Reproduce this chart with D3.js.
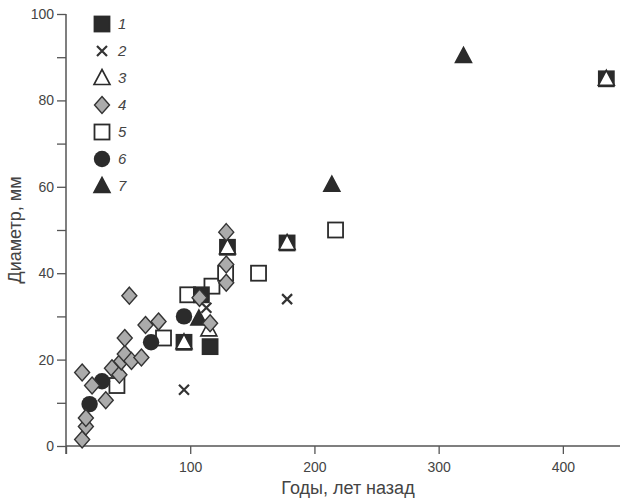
<!DOCTYPE html>
<html>
<head>
<meta charset="utf-8">
<script src="https://cdn.jsdelivr.net/npm/d3@7"></script>
<style>
  html, body { margin: 0; padding: 0; background: #fff; }
  svg { display: block; font-family: "Liberation Sans", Arial, sans-serif; }
</style>
</head>
<body>
<div id="chart"></div>
<script>
// values: [years ago, diameter mm]
const series1 = [[95, 24], [116, 23], [109, 35], [130, 46], [178, 47], [435, 85]];
const series2 = [[95, 13], [113, 32], [178, 34]];
const series3 = [[95, 24], [115, 27], [130, 46], [178, 47], [435, 85]];
const series4 = [[13, 1.5], [16, 4.5], [16, 6.5], [13, 17], [21, 14], [32, 10.6], [37, 18], [43, 16.5],
  [44.5, 19.6], [47.3, 21.3], [52.7, 19.7], [60.7, 20.5], [47.3, 25], [51, 34.8], [64, 28], [74.5, 28.8],
  [107.5, 34.3], [116, 28.4], [129, 37.8], [129, 42], [129, 49.5]];
const series5 = [[41, 14], [78.5, 25], [98, 35], [117.5, 37], [128.5, 40], [155, 40], [217, 50]];
const series6 = [[19, 9.7], [29, 15], [68.5, 24], [95, 30]];
const series7 = [[107, 29.5], [214, 60.5], [320, 90.3]];

const legendLabels = ["1", "2", "3", "4", "5", "6", "7"];
const xTicks = [0, 100, 200, 300, 400];
const yTicks = [0, 10, 20, 30, 40, 50, 60, 70, 80, 90, 100];
const yLabelTicks = [0, 20, 40, 60, 80, 100];

const W = 620, H = 499;
const margin = { top: 14, right: 0, bottom: 53, left: 66 };
const axisColor = "#555";
const dark = "#2b2b2b";
const grey = "#ababab";

const svg = d3.select("#chart").append("svg").attr("width", W).attr("height", H);

const x = d3.scaleLinear().domain([0, 446]).range([margin.left, W - margin.right]);
const y = d3.scaleLinear().domain([0, 100]).range([H - margin.bottom, margin.top]);

// marker shapes
const shapes = {
  square: (g, fill) => g.append("rect").attr("x", -7.5).attr("y", -7.5).attr("width", 15).attr("height", 15)
    .attr("fill", fill).attr("stroke", dark).attr("stroke-width", 1.8),
  circle: (g) => g.append("circle").attr("r", 8.2).attr("fill", dark),
  triangle: (g, fill) => g.append("path").attr("d", "M0,-8.5L8,6.5L-8,6.5Z")
    .attr("fill", fill).attr("stroke", dark).attr("stroke-width", 1.6).attr("stroke-linejoin", "miter"),
  diamond: (g) => g.append("path").attr("d", "M0,-8.5L7.5,0L0,8.5L-7.5,0Z")
    .attr("fill", grey).attr("stroke", "#333").attr("stroke-width", 1.4),
  cross: (g) => g.append("path").attr("d", "M-5,-5L5,5M-5,5L5,-5")
    .attr("stroke", "#333").attr("stroke-width", 2.2).attr("fill", "none"),
};

const kinds = [
  (g) => shapes.square(g, dark),
  (g) => shapes.cross(g),
  (g) => shapes.triangle(g, "#fff"),
  (g) => shapes.diamond(g),
  (g) => shapes.square(g, "#fff"),
  (g) => shapes.circle(g),
  (g) => shapes.triangle(g, dark),
];

// axes
const xAxis = svg.append("g")
  .attr("transform", `translate(0,${y(0)})`)
  .call(d3.axisBottom(x).tickValues(xTicks).tickSize(8).tickSizeOuter(0)
    .tickFormat((d) => (d === 0 ? "" : d)));
xAxis.select(".domain").attr("d", `M${x(0)},0H${W}`);

const yAxis = svg.append("g")
  .attr("transform", `translate(${x(0)},0)`)
  .call(d3.axisLeft(y).tickValues(yTicks).tickSize(9).tickSizeOuter(0)
    .tickFormat((d) => (yLabelTicks.includes(d) ? d : "")));
yAxis.select(".domain").attr("d", `M0,${y(100)}V${y(0) + 8}`);

svg.selectAll(".domain").attr("stroke", axisColor).attr("stroke-width", 1.5);
svg.selectAll(".tick line").attr("stroke", axisColor).attr("stroke-width", 1.3);
svg.selectAll(".tick text").attr("fill", "#444").attr("font-size", "14px");
xAxis.selectAll(".tick text").attr("dy", "1.05em");

svg.append("text")
  .attr("x", (x(0) + W) / 2 + 5).attr("y", 494)
  .attr("text-anchor", "middle").attr("font-size", "18px").attr("fill", "#444")
  .text("Годы, лет назад");

svg.append("text")
  .attr("transform", `translate(21,${(y(0) + y(100)) / 2}) rotate(-90)`)
  .attr("text-anchor", "middle").attr("font-size", "18px").attr("fill", "#444")
  .text("Диаметр, мм");

// points, drawn in overlap order
const order = [4, 5, 0, 2, 6, 3, 1];
const allSeries = [series1, series2, series3, series4, series5, series6, series7];
const pts = svg.append("g");
for (const i of order) {
  pts.selectAll(null)
    .data(allSeries[i])
    .join("g")
    .attr("transform", (d) => `translate(${x(d[0])},${y(d[1])})`)
    .each(function () { kinds[i](d3.select(this)); });
}

// legend
const lg = svg.append("g");
legendLabels.forEach((lab, i) => {
  const row = lg.append("g").attr("transform", `translate(102,${24 + i * 27})`);
  kinds[i](row);
  row.append("text").attr("x", 16).attr("dy", "0.36em")
    .attr("font-size", "15px").attr("font-style", "italic").attr("fill", "#444")
    .text(lab);
});
</script>
</body>
</html>
